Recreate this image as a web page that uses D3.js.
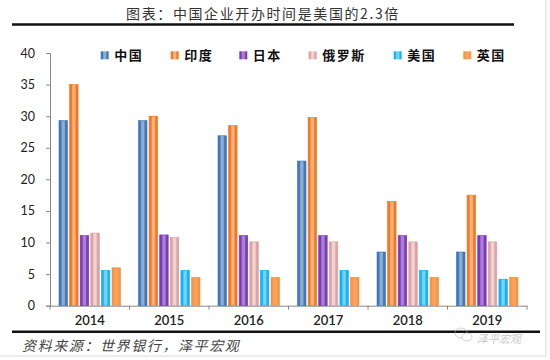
<!DOCTYPE html>
<html><head><meta charset="utf-8">
<script src="https://cdn.jsdelivr.net/npm/d3@7"></script>
<style>body{margin:0;background:#fff}svg{display:block}</style>
</head><body>
<svg id="c" width="550" height="360"></svg>
<script>
const years = ["2014","2015","2016","2017","2018","2019"];
const seriesNames = ["中国","印度","日本","俄罗斯","美国","英国"];
const china  = [29.3, 29.3, 26.9, 22.9, 8.5, 8.5];
const india  = [35.0, 30.0, 28.5, 29.8, 16.5, 17.5];
const japan  = [11.1, 11.2, 11.1, 11.1, 11.1, 11.1];
const russia = [11.5, 10.8, 10.1, 10.1, 10.1, 10.1];
const usa    = [5.6, 5.6, 5.6, 5.6, 5.6, 4.2];
const uk     = [6.0, 4.5, 4.5, 4.5, 4.5, 4.5];
const yTicks = [0,5,10,15,20,25,30,35,40];
const seriesValues = [china, india, japan, russia, usa, uk];

const colors = [
  {edge:"#3b79c4", mid:"#93adc9", stroke:"#3670b8"},
  {edge:"#ef7a26", mid:"#f9b27c", stroke:"#ea7320"},
  {edge:"#7d3bb8", mid:"#ad7fd8", stroke:"#7534ad"},
  {edge:"#dfa3a3", mid:"#f2d3d3", stroke:"#d99a9a"},
  {edge:"#1cb2ef", mid:"#6fd6ff", stroke:"#18a8e4"},
  {edge:"#f79646", mid:"#f9a45e", stroke:"#f08c3a"}
];

const svg = d3.select("#c");
const defs = svg.append("defs");
colors.forEach((c,i)=>{
  const g = defs.append("linearGradient").attr("id","g"+i).attr("x1","0").attr("x2","1").attr("y1","0").attr("y2","0");
  [[0,c.edge],[0.22,c.edge],[0.38,c.mid],[0.62,c.mid],[0.78,c.edge],[1,c.edge]].forEach(s=>g.append("stop").attr("offset",s[0]).attr("stop-color",s[1]));
});

// frame lines
svg.append("line").attr("x1",546).attr("x2",546).attr("y1",0).attr("y2",356).attr("stroke","#e6e6e6").attr("stroke-width",1.5);
svg.append("line").attr("x1",0).attr("x2",546).attr("y1",356).attr("y2",356).attr("stroke","#e6e6e6").attr("stroke-width",1.5);

// title
svg.append("text").attr("x",263).attr("y",18.5).attr("text-anchor","middle")
  .attr("font-family","'Noto Sans CJK SC'").attr("font-size",14).attr("letter-spacing",1.6)
  .attr("fill","#333").text("图表：中国企业开办时间是美国的2.3倍");
svg.append("line").attr("x1",12).attr("x2",514).attr("y1",24.5).attr("y2",24.5).attr("stroke","#111").attr("stroke-width",2.6);

const x0 = d3.scaleBand().domain(years).range([50,527]).padding(0);
const x1 = d3.scaleBand().domain(seriesNames).range([0,x0.bandwidth()]).paddingInner(0.2).paddingOuter(0.85);
const y = d3.scaleLinear().domain([0,40]).range([305.7,53]);

// y axis
const ya = svg.append("g").attr("transform","translate(50,0)")
  .call(d3.axisLeft(y).tickValues(yTicks).tickSize(4).tickPadding(11));
ya.select(".domain").attr("stroke","#888");
ya.selectAll(".tick line").attr("stroke","#888");
ya.selectAll("text").attr("font-family","Lato").attr("font-size",12.5).attr("fill","#222");

// x axis
const xa = svg.append("g").attr("transform","translate(0,305.7)")
  .call(d3.axisBottom(x0).tickSize(0).tickPadding(10));
xa.select(".domain").attr("stroke","#888");
xa.selectAll("text").attr("font-family","Lato").attr("font-size",13).attr("font-weight",600).attr("fill","#222");
svg.append("g").selectAll("line").data(years.concat(["end"])).join("line")
  .attr("x1",(d,i)=> i<years.length ? x0(d) : x0.range()[1])
  .attr("x2",(d,i)=> i<years.length ? x0(d) : x0.range()[1])
  .attr("y1",305.7).attr("y2",309.7).attr("stroke","#888");

// bars
const groups = svg.append("g").selectAll("g").data(years).join("g")
  .attr("transform",d=>`translate(${x0(d)},0)`);
groups.selectAll("rect").data((d,i)=>seriesNames.map((s,j)=>({s,j,v:seriesValues[j][i]}))).join("rect")
  .attr("x",d=>x1(d.s)).attr("width",x1.bandwidth())
  .attr("y",d=>y(d.v)).attr("height",d=>y(0)-y(d.v))
  .attr("fill",d=>`url(#g${d.j})`).attr("stroke",d=>colors[d.j].stroke).attr("stroke-width",0.6);

// legend
const legendX = [100.7,170.7,239.3,308.7,393.7,463.3];
const lg = svg.append("g").selectAll("g").data(seriesNames).join("g")
  .attr("transform",(d,i)=>`translate(${legendX[i]},51.3)`);
lg.append("rect").attr("width",8).attr("height",8).attr("fill",(d,i)=>`url(#g${i})`);
lg.append("text").attr("x",13.5).attr("y",8.5).attr("font-family","'Noto Sans CJK SC'").attr("font-weight",700)
  .attr("font-size",13).attr("letter-spacing",1.5).attr("fill","#111").text(d=>d);

// bottom line
svg.append("line").attr("x1",12).attr("x2",540).attr("y1",331.7).attr("y2",331.7).attr("stroke","#111").attr("stroke-width",2.4);

// watermark
const wm = svg.append("g").attr("opacity",0.55);
wm.append("ellipse").attr("cx",461).attr("cy",333).attr("rx",6).attr("ry",5).attr("fill","none").attr("stroke","#aaa").attr("stroke-width",1);
wm.append("ellipse").attr("cx",467).attr("cy",337).attr("rx",5).attr("ry",4).attr("fill","#fff").attr("stroke","#aaa").attr("stroke-width",1);
wm.append("text").attr("x",477).attr("y",343).attr("font-family","'Noto Sans CJK SC'").attr("font-size",11)
  .attr("font-style","italic").attr("fill","#999").text("泽平宏观");

// source
svg.append("text").attr("x",22).attr("y",350.5).attr("font-family","'Noto Sans CJK SC'").attr("font-size",14)
  .attr("font-style","italic").attr("letter-spacing",1.6).attr("fill","#444").text("资料来源：世界银行，泽平宏观");
</script>
</body></html>
